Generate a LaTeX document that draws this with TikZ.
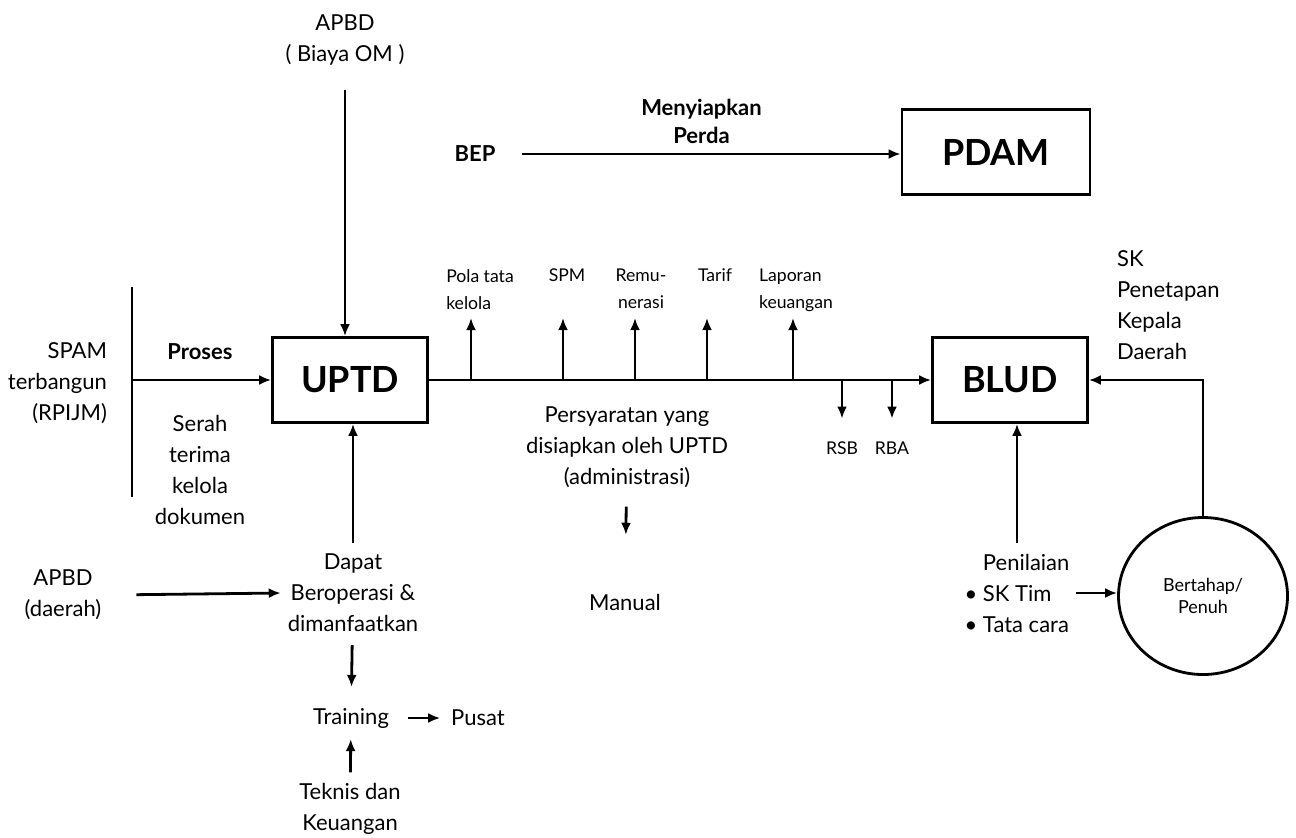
\documentclass[tikz,border=0pt]{standalone}
\usepackage{fontspec}
\setmainfont{Lato}
\usetikzlibrary{arrows.meta, positioning, shapes.geometric}

\begin{document}
\begin{tikzpicture}[
  x=0.5pt, y=-0.5pt,
  box/.style={draw, line width=1.4pt, minimum width=77.5pt, minimum height=42.5pt, font=\fontsize{18}{20}\selectfont\bfseries},
  txt/.style={align=center, font=\fontsize{11}{15.5}\selectfont},
  small/.style={align=left, font=\fontsize{8.8}{13.5}\selectfont},
  arrow/.style={-{Latex[length=6pt, width=5pt]}, line width=1.4pt}
]
\useasboundingbox (0,0) rectangle (1296,837);

\node[box] (uptd) at (350,380) {UPTD};
\node[box] (blud) at (1010,380) {BLUD};
\node[box, minimum width=94pt] (pdam) at (996,152) {PDAM};
\node[draw, ellipse, line width=1.4pt, minimum width=84.5pt, minimum height=78.5pt, small, align=center, font=\fontsize{9}{11}\selectfont] (tahap) at (1203,596) {Bertahap/\\Penuh};

\node[txt] (apbdom) at (345,40) {APBD\\( Biaya OM )};
\node[txt, align=right, anchor=east] (spam) at (114,383) {SPAM\\terbangun\\(RPIJM)};
\node[txt, font=\fontsize{11}{15.5}\selectfont\bfseries] (proses) at (200,352) {Proses};
\node[txt] (serah) at (200,470) {Serah\\terima\\kelola\\dokumen};
\node[txt] (dapat) at (353,593) {Dapat\\Beroperasi \&\\dimanfaatkan};
\node[txt] (apbdd) at (63,595) {APBD\\(daerah)};
\node[txt] (train) at (351,718) {Training};
\node[txt] (pusat) at (478,718) {Pusat};
\node[txt] (tek) at (350,809) {Teknis dan\\Keuangan};

\node[txt, font=\fontsize{11}{15.5}\selectfont\bfseries] (bep) at (475,154) {BEP};
\node[txt, align=left, anchor=west] (sk) at (1110,305) {SK\\Penetapan\\Kepala\\Daerah};
\node[txt, align=left] (nilai) at (1017,593) {\phantom{• }Penilaian\\• SK Tim\\• Tata cara};

\node[txt] (syarat) at (627,447) {Persyaratan yang\\disiapkan oleh UPTD\\(administrasi)};
\node[txt] (manual) at (625,602) {Manual};
\node[small, align=center] (rsb) at (842,448) {RSB};
\node[small, align=center] (rba) at (892,448) {RBA};

\node[small, anchor=north] (pola) at (480,262) {Pola tata\\kelola};
\node[small, anchor=north] (spm) at (567,262) {SPM};
\node[small, anchor=north, align=center] (remu) at (641,262) {Remu-\\nerasi};
\node[small, anchor=north] (tarif) at (715,262) {Tarif};
\node[small, anchor=north] (lap) at (796,262) {Laporan\\keuangan};

\coordinate (bar) at (132,380);
\coordinate (upend) at (0,318);
\coordinate (p1) at (471,380);
\coordinate (p2) at (563,380);
\coordinate (p3) at (635,380);
\coordinate (p4) at (707,380);
\coordinate (p5) at (793,380);
\coordinate (r1) at (842,380);
\coordinate (r2) at (892,380);

\draw[line width=1.3pt] (132,287) -- (132,497);
\draw[arrow] (bar) -- (uptd.west);
\draw[arrow, shorten <=9pt] (apbdom.south) -- (apbdom.south |- uptd.north);
\draw[arrow, shorten <=2pt] (dapat.north) -- (dapat.north |- uptd.south);
\draw[arrow, shorten <=14pt] (apbdd.east) -- (dapat.west);
\draw[arrow, shorten <=3pt, shorten >=7pt] (dapat) -- (train);
\draw[arrow, shorten <=6pt, shorten >=2pt] (train) -- (pusat);
\draw[arrow, shorten <=2pt, shorten >=2pt] (tek) -- (train);

\draw[arrow] (uptd.east) -- (blud.west);
\foreach \p in {p1,p2,p3,p4,p5}
  \draw[arrow] (\p) -- (\p |- upend);
\draw[arrow, shorten >=8pt] (r1) -- (rsb.north);
\draw[arrow, shorten >=8pt] (r2) -- (rba.north);
\draw[arrow, shorten <=6pt, shorten >=26pt] (syarat) -- (manual);

\draw[arrow, shorten <=10pt] (bep) -- node[above=1pt, txt, font=\fontsize{11}{14}\selectfont\bfseries]{Menyiapkan\\Perda} (bep -| pdam.west);
\draw[arrow] (tahap.north) |- (blud.east);
\draw[arrow, shorten <=2pt] (nilai.north) -- (nilai.north |- blud.south);
\draw[arrow] (nilai.east) -- (nilai.east -| tahap.west);
\end{tikzpicture}
\end{document}
